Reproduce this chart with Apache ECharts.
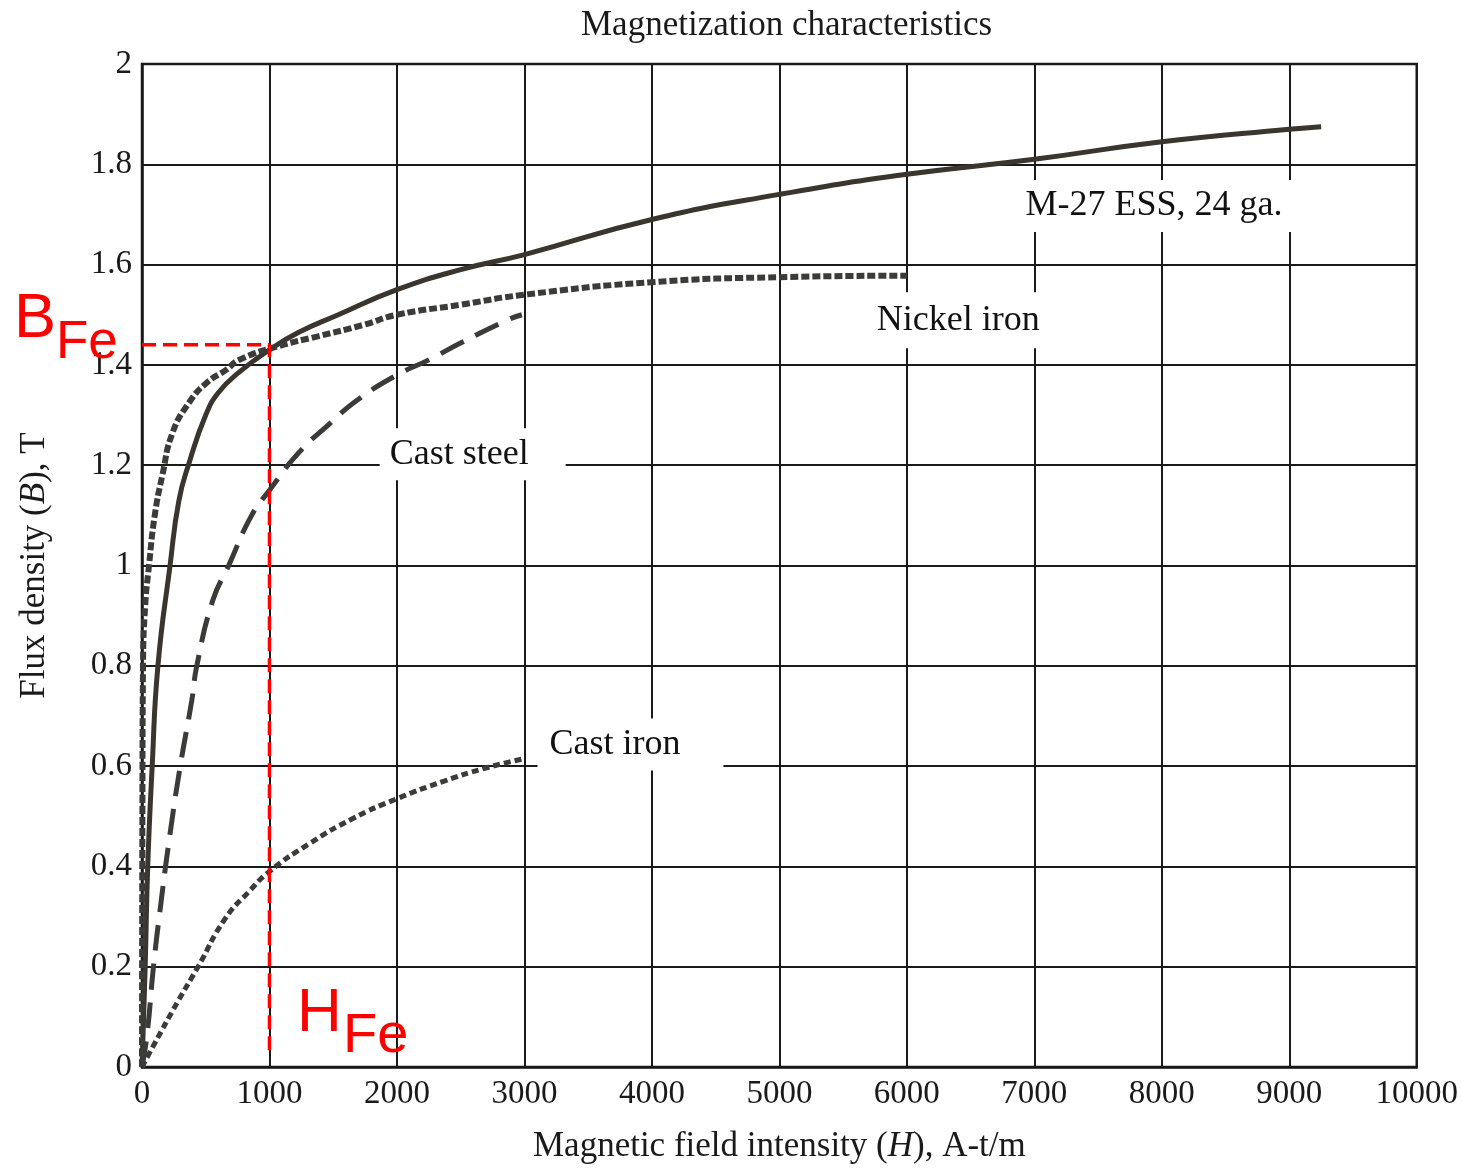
<!DOCTYPE html>
<html>
<head>
<meta charset="utf-8">
<script src="https://cdn.jsdelivr.net/npm/echarts@6/dist/echarts.min.js"></script>
<style>html,body{margin:0;padding:0;background:#fff}#c{width:1461px;height:1169px}</style>
</head>
<body>
<div id="c"></div>
<script>
// ---- data (H in A-t/m, B in T) ----
const xTicks = [0, 1000, 2000, 3000, 4000, 5000, 6000, 7000, 8000, 9000, 10000];
const yTicks = [0, 0.2, 0.4, 0.6, 0.8, 1, 1.2, 1.4, 1.6, 1.8, 2];

const m27 = [[0,0],[25,0.2],[45,0.4],[80,0.6],[125,0.8],[220,1.0],[290,1.13],[370,1.205],[500,1.3],[600,1.345],[760,1.385],[1000,1.43],[1230,1.465],[1540,1.5],[2000,1.55],[2500,1.59],[3000,1.62],[4000,1.69],[5000,1.74],[6000,1.78],[7000,1.81],[8000,1.845],[9000,1.87],[9250,1.875]];
const nickelIron = [[0,0],[3,0.5],[8,0.8],[25,0.92],[55,1.0],[100,1.1],[160,1.18],[240,1.265],[370,1.325],[510,1.365],[660,1.39],[760,1.41],[1080,1.438],[1380,1.457],[1740,1.48],[2000,1.5],[2500,1.52],[3000,1.54],[4000,1.565],[5000,1.575],[6000,1.578]];
const castSteel = [[0,0],[40,0.065],[90,0.2],[150,0.33],[220,0.465],[300,0.6],[390,0.73],[430,0.8],[555,0.93],[680,1.0],[860,1.1],[1000,1.15],[1230,1.225],[1460,1.28],[1690,1.33],[2000,1.38],[2250,1.41],[2510,1.445],[2870,1.49],[2980,1.5]];
const castIron = [[0,0],[95,0.045],[280,0.13],[440,0.2],[650,0.295],[840,0.35],[1000,0.39],[1310,0.445],[1650,0.495],[2000,0.535],[2370,0.57],[2680,0.595],[3000,0.615]];

const hFe = 1000;
const bFe = 1.44;

const curveNames = ['M-27 ESS, 24 ga.', 'Nickel iron', 'Cast steel', 'Cast iron'];
const labelAnchors = [[7939, 1.717], [6403, 1.489], [2594, 1.222], [3832, 0.643]];

// ---- chart ----
const SERIF = 'Liberation Serif';
const INK = '#1a1a1a';
const chart = echarts.init(document.getElementById('c'), null, {renderer: 'canvas'});

const labelPads = [[8, 10, 8, 10], [10, 10, 10, 10], [8, 37, 8, 10], [8, 43, 8, 12]];

const curveStyle = {showSymbol: false, smooth: 0.5, type: 'line'};

const option = {
  backgroundColor: '#fff',
  animation: false,
  title: {
    text: 'Magnetization characteristics',
    left: 576, top: 3,
    textStyle: {fontFamily: SERIF, fontSize: 35, fontWeight: 'normal', color: INK}
  },
  grid: {left: 142, top: 64, right: 43, bottom: 100, show: true, borderColor: INK, borderWidth: 2.5},
  xAxis: {
    type: 'value', min: xTicks[0], max: xTicks[xTicks.length - 1], interval: xTicks[1] - xTicks[0],
    axisLine: {show: true, onZero: false, lineStyle: {color: INK, width: 2.5}},
    axisTick: {show: false},
    splitLine: {show: true, lineStyle: {color: INK, width: 2}},
    axisLabel: {fontFamily: SERIF, fontSize: 33, color: INK, margin: 11, formatter: v => String(v)},
    name: 'Magnetic field intensity ({i|H}), A-t/m',
    nameLocation: 'middle', nameGap: 62,
    nameTextStyle: {fontFamily: SERIF, fontSize: 35, color: INK,
      rich: {i: {fontFamily: SERIF, fontSize: 35, fontStyle: 'italic', color: INK}}}
  },
  yAxis: {
    type: 'value', min: yTicks[0], max: yTicks[yTicks.length - 1], interval: 0.2,
    axisLine: {show: true, onZero: false, lineStyle: {color: INK, width: 2.5}},
    axisTick: {show: false},
    splitLine: {show: true, lineStyle: {color: INK, width: 2}},
    axisLabel: {fontFamily: SERIF, fontSize: 33, color: INK, margin: 10, formatter: v => String(+v.toFixed(1))},
    name: 'Flux density ({i|B}), T',
    nameLocation: 'middle', nameGap: 90, nameRotate: 90,
    nameTextStyle: {fontFamily: SERIF, fontSize: 35, color: INK,
      rich: {i: {fontFamily: SERIF, fontSize: 35, fontStyle: 'italic', color: INK}}}
  },
  series: [
    Object.assign({name: curveNames[0], data: m27, lineStyle: {color: '#3a352f', width: 5}}, curveStyle),
    Object.assign({name: curveNames[1], data: nickelIron, lineStyle: {color: '#3b3b39', width: 6, type: [8, 3]}}, curveStyle),
    Object.assign({name: curveNames[2], data: castSteel, lineStyle: {color: '#3b3b39', width: 5, type: [26, 13]}}, curveStyle),
    Object.assign({name: curveNames[3], data: castIron, lineStyle: {color: '#3b3b39', width: 5, type: [7, 4]}}, curveStyle),
    {name: 'guide', type: 'line', data: [[0, bFe], [hFe, bFe], [hFe, 0.02]], showSymbol: false, z: 10,
      lineStyle: {color: '#ff0000', width: 3.5, type: [14, 7]}},
    {name: 'labels', type: 'scatter', symbolSize: 0, z: 5,
      itemStyle: {color: '#fff', opacity: 1},
      data: curveNames.map((n, i) => ({
        name: n, value: labelAnchors[i],
        label: {padding: labelPads[i]}
      })),
      label: {show: true, position: 'inside', formatter: p => p.name,
        fontFamily: SERIF, fontSize: 36, color: '#111', opacity: 1,
        textBorderWidth: 0, textShadowBlur: 0, backgroundColor: '#fff'}}
  ],
  graphic: [
    {type: 'text', left: 14, top: 288, z: 100, style: {text: 'B', fontFamily: 'Liberation Sans', fontSize: 63, fill: '#ff0000'}},
    {type: 'text', left: 56, top: 317, z: 100, style: {text: 'Fe', fontFamily: 'Liberation Sans', fontSize: 53, fill: '#ff0000'}},
    {type: 'text', left: 297, top: 983, z: 100, style: {text: 'H', fontFamily: 'Liberation Sans', fontSize: 62, fill: '#ff0000'}},
    {type: 'text', left: 343, top: 1009, z: 100, style: {text: 'Fe', fontFamily: 'Liberation Sans', fontSize: 56, fill: '#ff0000'}}
  ]
};
chart.setOption(option);
</script>
</body>
</html>
